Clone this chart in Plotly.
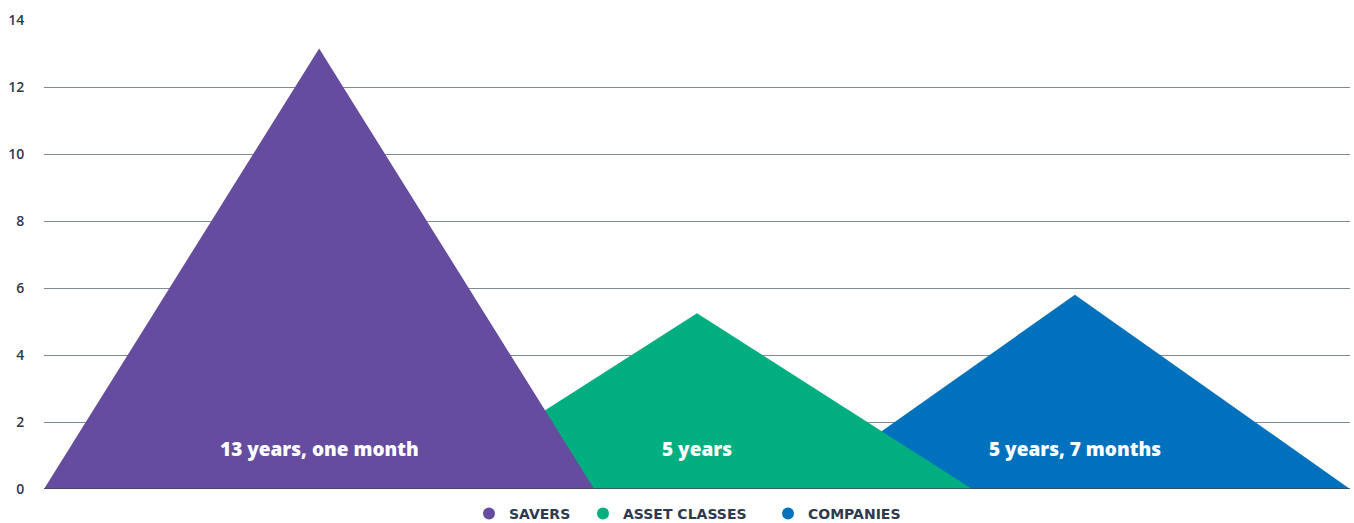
import plotly.graph_objects as go

series = ["SAVERS", "ASSET CLASSES", "COMPANIES"]
peak_values = [13.15, 5.25, 5.8]
peak_positions = [0, 1, 2]
labels = ["13 years, one month", "5 years", "5 years, 7 months"]
colors = ["#654c9f", "#00ae80", "#0071bc"]
half_width = 0.728
label_y = 1.18

W, H = 1354, 523
legend_left_px = [469, 583, 768]
legend_keys = ["legend", "legend2", "legend3"]

fig = go.Figure()

# draw order: companies, asset classes, savers (savers on top)
for i in [2, 1, 0]:
    p = peak_positions[i]
    fig.add_trace(go.Scatter(
        x=[p - half_width, p, p + half_width, p - half_width],
        y=[0, peak_values[i], 0, 0],
        fill="toself", mode="lines", line=dict(width=0),
        fillcolor=colors[i], showlegend=False, hoverinfo="skip",
    ))

legend_cfg = {}
for i in range(3):
    fig.add_trace(go.Scatter(
        x=[None], y=[None], mode="markers", name=series[i],
        marker=dict(symbol="circle", size=12, color=colors[i]),
        legend=legend_keys[i],
    ))
    fig.add_annotation(
        x=peak_positions[i], y=label_y, text=labels[i], showarrow=False,
        font=dict(family="Open Sans", size=19, color="white", weight=800),
    )
    legend_cfg[legend_keys[i]] = dict(
        orientation="h", x=legend_left_px[i] / W, xanchor="left", xref="container",
        y=(H - 514) / H, yanchor="middle", yref="container",
        font=dict(family="DejaVu Sans", size=14, color="#2e3a4d", weight="bold"),
        itemsizing="constant", itemwidth=30, bgcolor="rgba(0,0,0,0)", borderwidth=0,
    )

fig.update_layout(
    width=W, height=H,
    margin=dict(l=44, r=4, t=20, b=34, autoexpand=False),
    plot_bgcolor="white", paper_bgcolor="white",
    font=dict(family="Open Sans", color="#2e3a4d"),
    xaxis=dict(range=[-half_width, 2 + half_width], visible=False, fixedrange=True),
    yaxis=dict(
        range=[0, 14], dtick=2, tick0=0, showgrid=True, gridcolor="#7f8a99", gridwidth=1,
        zeroline=False, showline=False, ticks="outside", ticklen=16,
        tickcolor="rgba(0,0,0,0)", tickfont=dict(size=14, color="#2e3a4d", weight=600),
        fixedrange=True,
    ),
    showlegend=True,
    **legend_cfg,
)

# dark baseline at zero
fig.add_shape(type="line", xref="paper", yref="y", x0=0, x1=1, y0=0, y1=0,
              line=dict(color="#3d4657", width=1.5), layer="above")

fig.write_html("out.html")
